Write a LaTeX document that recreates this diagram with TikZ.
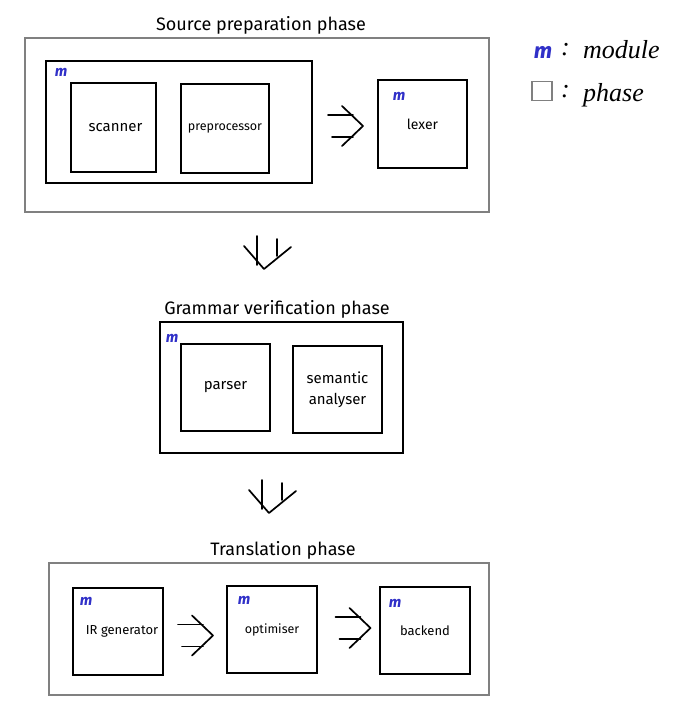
\documentclass[tikz,border=0pt]{standalone}
\usepackage{fontspec}
\setmainfont{Fira Sans}
\newfontfamily\handfont{Liberation Serif}
\usetikzlibrary{calc}
\definecolor{penblue}{RGB}{48,48,200}
\definecolor{phasegray}{RGB}{128,128,128}
\newcommand{\fsz}[1]{\fontsize{#1}{#1}\selectfont}
\tikzset{
  modbox/.style={draw=black, line width=1.9pt, inner sep=0pt, align=center, font=\fsz{14}},
  phasebox/.style={draw=phasegray, line width=1.9pt, inner sep=0pt},
  grpbox/.style={draw=black, line width=1.9pt, inner sep=0pt},
  title/.style={font=\fsz{18}, inner sep=0pt},
  mmark/.style={text=penblue, font=\fsz{15}\itshape\bfseries, inner sep=0pt},
  hand/.style={font=\handfont\itshape\fsz{26}, inner sep=0pt, anchor=west},
  stroke/.style={line width=1.7pt, line cap=round, line join=round},
  rarrow/.pic={
    \draw[stroke] (-17,-11) -- (8,-11);
    \draw[stroke] (-13,11) -- (8,11);
    \draw[stroke] (-3,-20) -- (18,0) -- (-3,20);
  },
  darrow/.pic={
    \draw[stroke] (-8,-22) -- (-8,7);
    \draw[stroke] (12,-19) -- (12,-2);
    \draw[stroke] (-21,-12) -- (-1,11) -- (26,-11);
  }
}
\begin{document}
\begin{tikzpicture}[x=1pt, y=-1pt]
\useasboundingbox[fill=white] (0,0) rectangle (694,710);

% ---------- Phase 1 ----------
\node[phasebox, minimum width=464, minimum height=174] (phase1) at (257,125) {};
\node[title] (t1) at (261,25) {Source preparation phase};
\node[grpbox, minimum width=266, minimum height=122] (grp1) at (179,122) {};
\node[mmark] (m1) at (61,72) {m};
\node[modbox, minimum width=85, minimum height=89, font=\fsz{15}] (scanner) at (113.5,127.5) {\hspace*{4pt}scanner};
\node[modbox, minimum width=88, minimum height=89, font=\fsz{12.5}] (prep) at (225,128.5) {preprocessor};
\node[modbox, minimum width=89, minimum height=88] (lexer) at (422.5,124) {lexer};
\node[mmark] (m2) at (399,96) {m};
\pic at ($(grp1.east)!0.5!(lexer.west)+(0,3)$) {rarrow};

\pic at (265,258) {darrow};

% ---------- Phase 2 ----------
\node[title] (t2) at (277,309) {Grammar verification phase};
\node[grpbox, minimum width=243, minimum height=131] (grp2) at (281.5,387.5) {};
\node[mmark] (m3) at (172,338) {m};
\node[modbox, minimum width=89, minimum height=87, font=\fsz{15}] (parser) at (225.5,387.5) {parser};
\node[modbox, minimum width=89, minimum height=87, font=\fontsize{15}{21}\selectfont] (sem) at (337.5,389.5) {semantic\\analyser};

\pic at (270,502) {darrow};

% ---------- Phase 3 ----------
\node[title] (t3) at (283,550) {Translation phase};
\node[phasebox, minimum width=440, minimum height=132] (phase3) at (269,629) {};
\node[modbox, minimum width=90, minimum height=87, font=\fsz{13}] (irgen) at (118,631.5) {\hspace*{8pt}IR generator};
\node[mmark] (m4) at (86,601) {m};
\node[modbox, minimum width=90, minimum height=87, font=\fsz{12.5}] (opt) at (272,629.5) {optimiser};
\node[mmark] (m5) at (244,600) {m};
\node[modbox, minimum width=90, minimum height=87, font=\fsz{13}] (back) at (425,630.5) {backend};
\node[mmark] (m6) at (395,603) {m};
\pic at ($(irgen.east)!0.5!(opt.west)+(0,5)$) {rarrow};
\pic at ($(opt.east)!0.5!(back.west)+(4,-2)$) {rarrow};

% ---------- Legend ----------
\node[mmark, font=\fsz{22}\itshape\bfseries] (lm) at (543,52) {m};
\node[hand] (lc1) at (561,50) {:};
\node[hand] (lmod) at (583,50) {module};
\node[draw=phasegray, line width=1.7pt, minimum width=20, minimum height=19, inner sep=0pt] (lsq) at (542,91) {};
\node[hand] (lc2) at (561,92) {:};
\node[hand] (lph) at (583,95) {phase};
\end{tikzpicture}
\end{document}
